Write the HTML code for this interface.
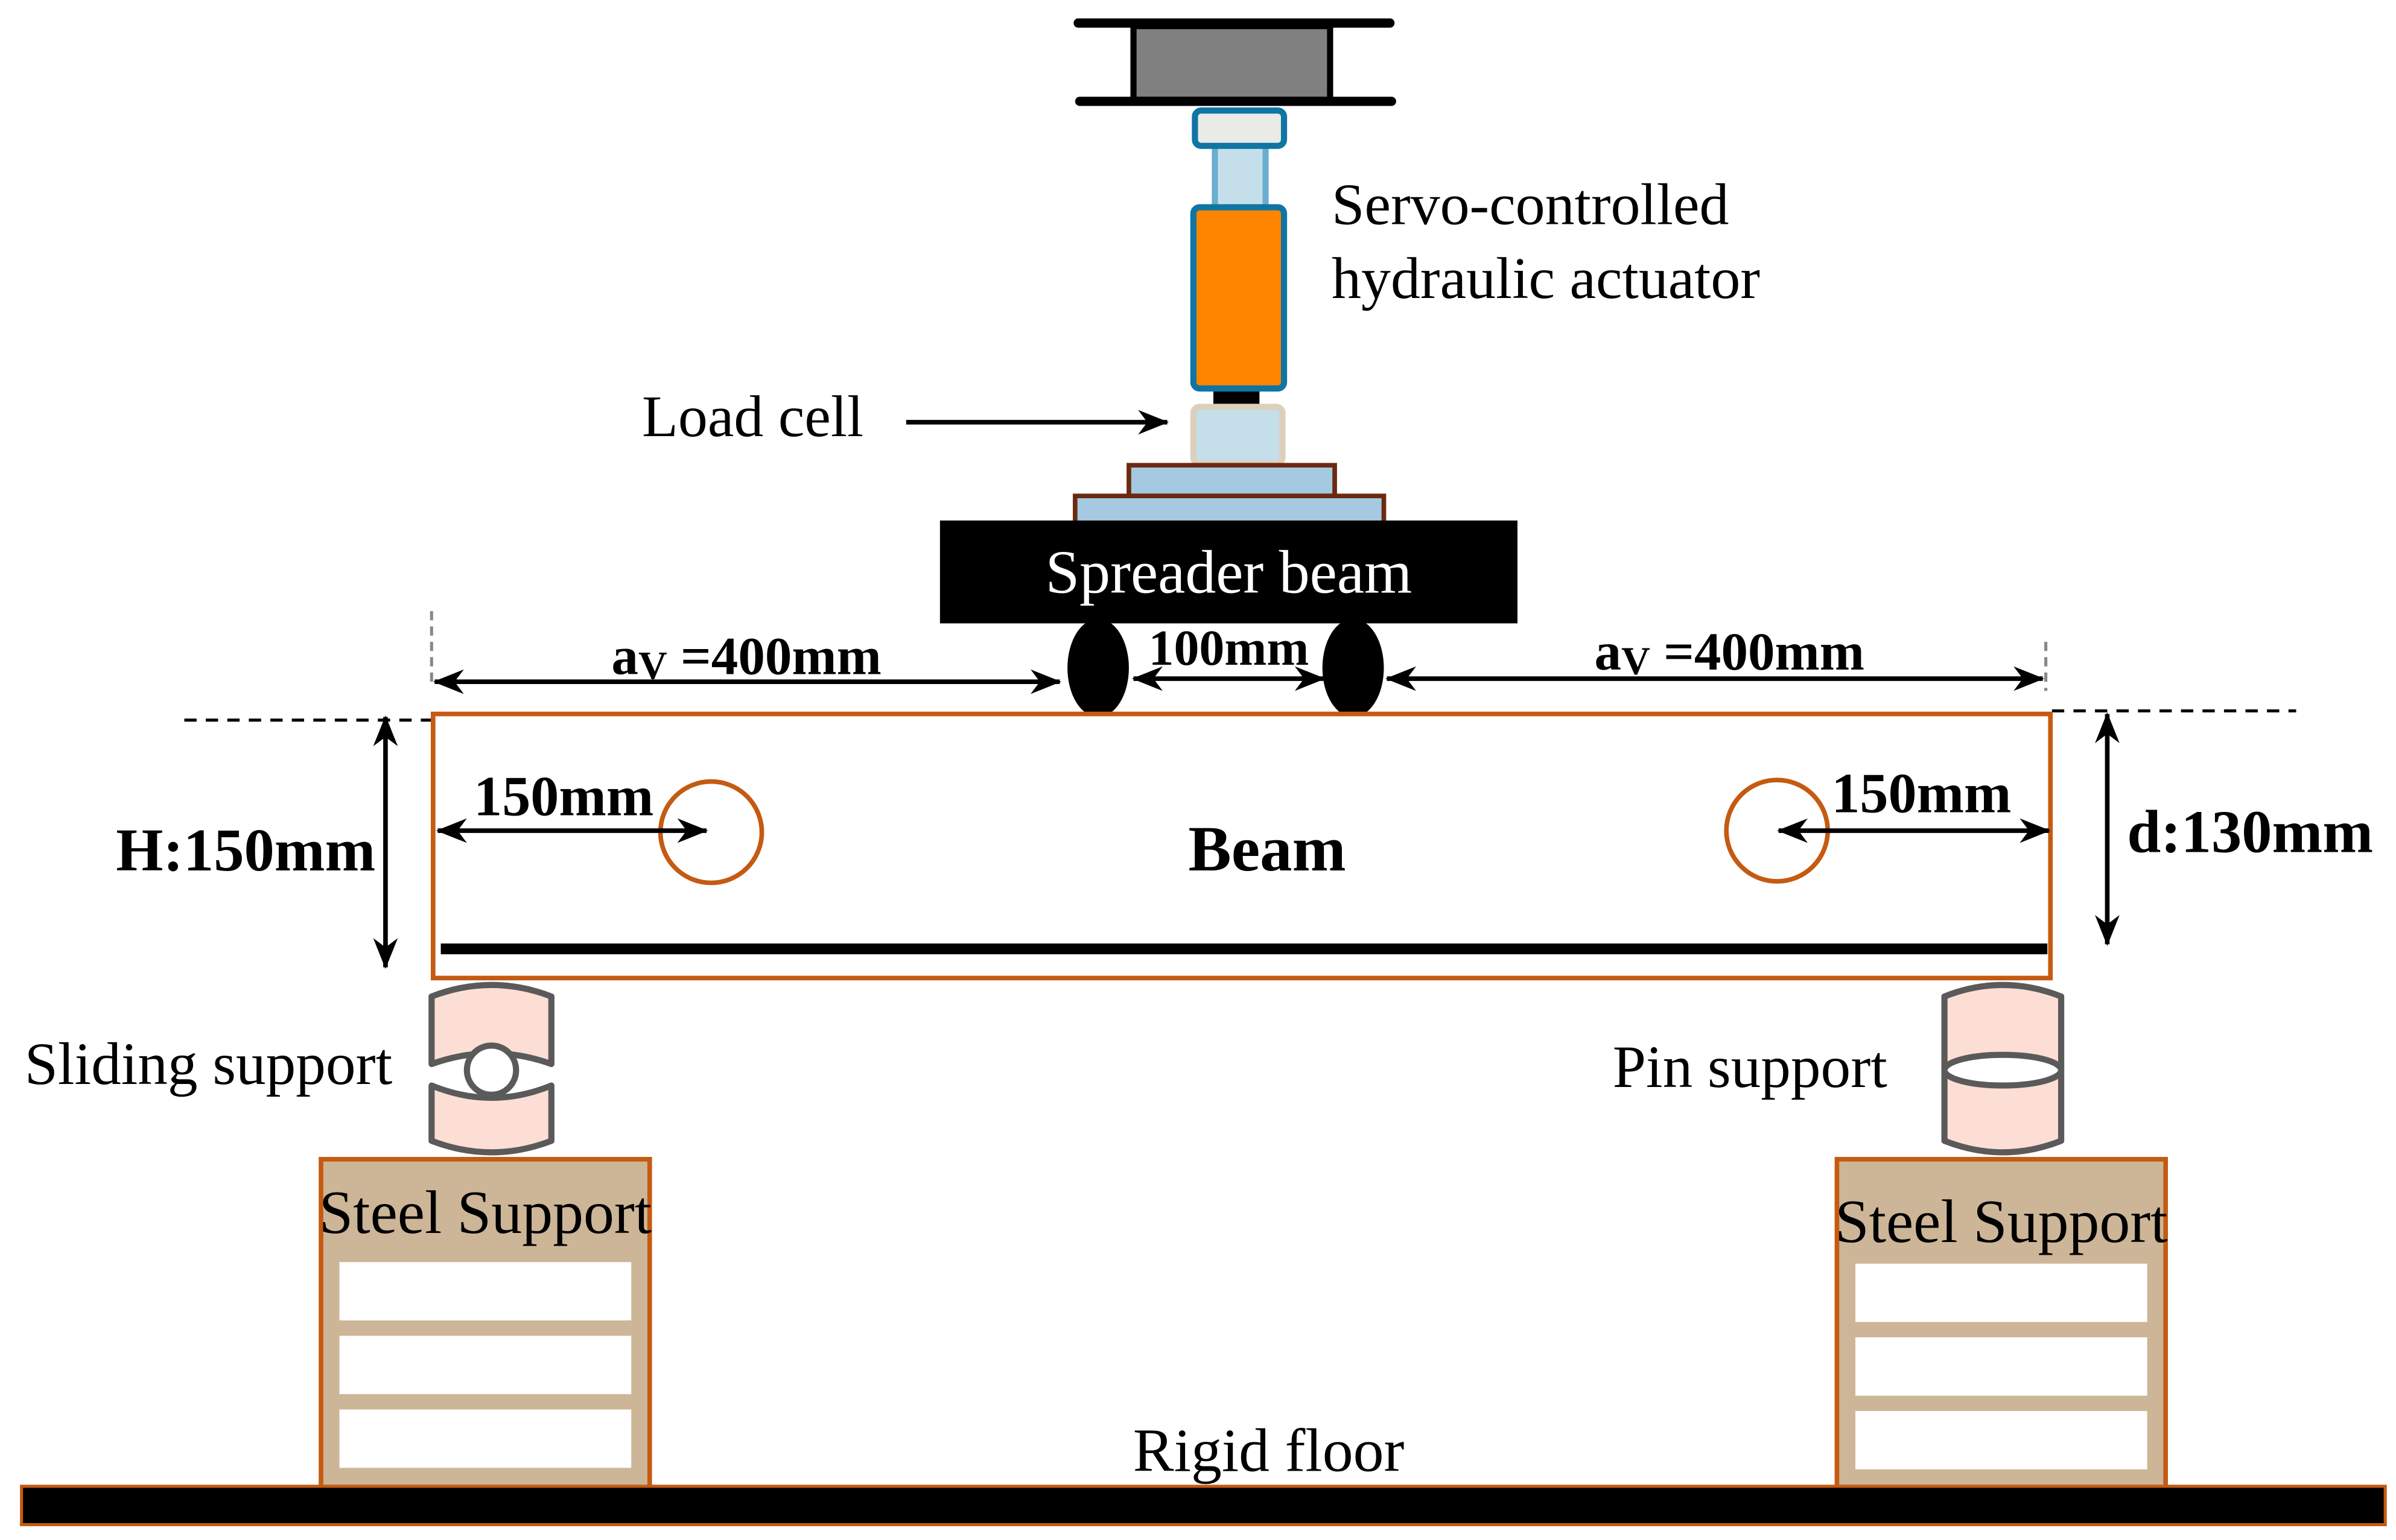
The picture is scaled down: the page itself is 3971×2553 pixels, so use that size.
<!DOCTYPE html>
<html><head><meta charset="utf-8"><style>html,body{margin:0;padding:0;background:#fff}svg{display:block}</style></head><body>
<svg width="3971" height="2553" viewBox="0 0 1560 1003" preserveAspectRatio="none" xmlns="http://www.w3.org/2000/svg" font-family="Liberation Serif, serif">
<defs>
<marker id="b" viewBox="0 0 20 16" refX="19" refY="8" markerWidth="20" markerHeight="16" orient="auto-start-reverse" markerUnits="userSpaceOnUse"><path d="M0,0 L20,8 L0,16 L6,8 Z" fill="#000"/></marker>
</defs>
<rect x="738" y="17" width="128" height="48" fill="#808080" stroke="#000" stroke-width="4"/>
<line x1="702" y1="15" x2="905" y2="15" stroke="#000" stroke-width="6" stroke-linecap="round"/>
<line x1="703" y1="66" x2="906" y2="66" stroke="#000" stroke-width="6" stroke-linecap="round"/>
<rect x="791" y="94" width="33" height="42" fill="#c5dfea" stroke="#6aaed0" stroke-width="4"/>
<rect x="778" y="72" width="58" height="23" rx="4" fill="#e8ebe8" stroke="#0f75a3" stroke-width="4"/>
<rect x="777" y="135" width="59" height="118" rx="4" fill="#ff8500" stroke="#0f75a3" stroke-width="4"/>
<rect x="790" y="255" width="30" height="10" fill="#000"/>
<rect x="777" y="265" width="58" height="37" rx="4" fill="#c5dfea" stroke="#dcd0bd" stroke-width="4"/>
<rect x="735" y="303" width="134" height="20" fill="#a5c9e0" stroke="#6b2a10" stroke-width="3"/>
<rect x="700" y="323" width="201" height="20" fill="#a5c9e0" stroke="#6b2a10" stroke-width="3"/>
<rect x="612" y="339" width="376" height="67" fill="#000"/>
<text x="800" y="386" font-size="40" fill="#fff" text-anchor="middle">Spreader beam</text>
<text x="867" y="146" font-size="38.5">Servo-controlled</text>
<text x="867" y="194" font-size="38.5">hydraulic actuator</text>
<text x="418" y="284" font-size="38.5">Load cell</text>
<line x1="590" y1="275" x2="760" y2="275" stroke="#000" stroke-width="3" marker-end="url(#b)"/>
<ellipse cx="715" cy="435" rx="20" ry="32" fill="#000"/>
<ellipse cx="881" cy="435" rx="20" ry="32" fill="#000"/>
<line x1="281" y1="398" x2="281" y2="445" stroke="#888" stroke-width="2" stroke-dasharray="6,4"/>
<line x1="1332" y1="418" x2="1332" y2="450" stroke="#888" stroke-width="2" stroke-dasharray="6,4"/>
<line x1="283" y1="444" x2="690" y2="444" stroke="#000" stroke-width="3" marker-start="url(#b)" marker-end="url(#b)"/>
<line x1="738" y1="442" x2="862" y2="442" stroke="#000" stroke-width="3" marker-start="url(#b)" marker-end="url(#b)"/>
<line x1="903" y1="442" x2="1330" y2="442" stroke="#000" stroke-width="3" marker-start="url(#b)" marker-end="url(#b)"/>
<text x="486" y="439" font-size="35" font-weight="bold" text-anchor="middle">a<tspan font-size="26" dy="3">V</tspan><tspan dy="-3"> =400mm</tspan></text>
<text x="800" y="433" font-size="33" font-weight="bold" text-anchor="middle">100mm</text>
<text x="1126" y="436" font-size="35" font-weight="bold" text-anchor="middle">a<tspan font-size="26" dy="3">V</tspan><tspan dy="-3"> =400mm</tspan></text>
<line x1="120" y1="469" x2="282" y2="469" stroke="#000" stroke-width="2" stroke-dasharray="8,6"/>
<line x1="1336" y1="463" x2="1495" y2="463" stroke="#000" stroke-width="2" stroke-dasharray="8,6"/>
<rect x="282" y="465" width="1053" height="172" fill="#fff" stroke="#c55a11" stroke-width="3"/>
<line x1="287" y1="618" x2="1333" y2="618" stroke="#000" stroke-width="7"/>
<circle cx="463" cy="542" r="33" fill="none" stroke="#c55a11" stroke-width="3"/>
<circle cx="1157" cy="541" r="33" fill="none" stroke="#c55a11" stroke-width="3"/>
<text x="825" y="567" font-size="42" font-weight="bold" text-anchor="middle">Beam</text>
<line x1="285" y1="541" x2="460" y2="541" stroke="#000" stroke-width="3" marker-start="url(#b)" marker-end="url(#b)"/>
<text x="367" y="531" font-size="37" font-weight="bold" text-anchor="middle">150mm</text>
<line x1="1158" y1="541" x2="1334" y2="541" stroke="#000" stroke-width="3" marker-start="url(#b)" marker-end="url(#b)"/>
<text x="1251" y="529" font-size="37" font-weight="bold" text-anchor="middle">150mm</text>
<line x1="251" y1="467" x2="251" y2="630" stroke="#000" stroke-width="3" marker-start="url(#b)" marker-end="url(#b)"/>
<text x="160" y="567" font-size="39.5" font-weight="bold" text-anchor="middle">H:150mm</text>
<line x1="1372" y1="465" x2="1372" y2="615" stroke="#000" stroke-width="3" marker-start="url(#b)" marker-end="url(#b)"/>
<text x="1465" y="555" font-size="39.5" font-weight="bold" text-anchor="middle">d:130mm</text>
<path d="M281,649 Q320,634 359,649 L359,693 Q320,679 281,693 Z" fill="#fcded4" stroke="#5a5a5a" stroke-width="4" stroke-linejoin="round"/>
<path d="M281,707 Q320,723 359,707 L359,743 Q320,758 281,743 Z" fill="#fcded4" stroke="#5a5a5a" stroke-width="4" stroke-linejoin="round"/>
<circle cx="320" cy="697" r="16" fill="#fff" stroke="#5a5a5a" stroke-width="4"/>
<text x="16" y="706" font-size="39">Sliding support</text>
<path d="M1266,649 Q1304,634 1342,649 L1342,743 Q1304,758 1266,743 Z" fill="#fcded4" stroke="#5a5a5a" stroke-width="4" stroke-linejoin="round"/>
<ellipse cx="1304" cy="697" rx="38" ry="10" fill="#fff" stroke="#5a5a5a" stroke-width="4"/>
<text x="1050" y="708" font-size="39">Pin support</text>
<rect x="209" y="755" width="214" height="214" fill="#cdb597" stroke="#c55a11" stroke-width="3"/>
<rect x="221" y="822" width="190" height="38" fill="#fff"/>
<rect x="221" y="870" width="190" height="38" fill="#fff"/>
<rect x="221" y="918" width="190" height="38" fill="#fff"/>
<text x="316" y="803" font-size="40" text-anchor="middle">Steel Support</text>
<rect x="1196" y="755" width="214" height="214" fill="#cdb597" stroke="#c55a11" stroke-width="3"/>
<rect x="1208" y="823" width="190" height="38" fill="#fff"/>
<rect x="1208" y="871" width="190" height="38" fill="#fff"/>
<rect x="1208" y="919" width="190" height="38" fill="#fff"/>
<text x="1303" y="809" font-size="40" text-anchor="middle">Steel Support</text>
<text x="826" y="958" font-size="40" text-anchor="middle">Rigid floor</text>
<rect x="14" y="968" width="1539" height="25" fill="#000" stroke="#c55a11" stroke-width="2"/>
</svg>
</body></html>
